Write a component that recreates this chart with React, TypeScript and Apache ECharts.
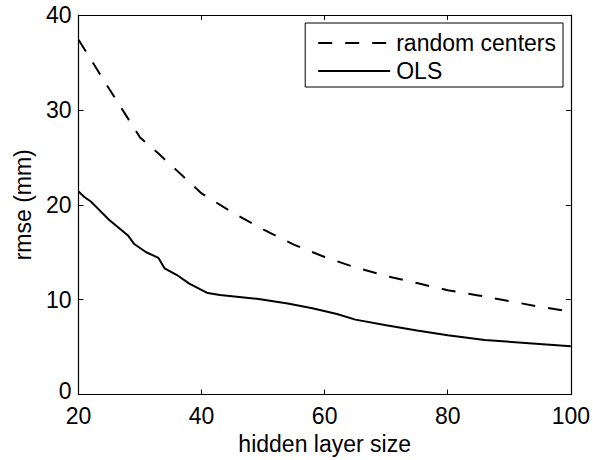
import React, { useEffect, useRef } from "react";
import * as echarts from "echarts";

const dashedX = [20, 25, 30, 33, 36, 40, 45, 50, 55, 60, 65, 70, 75, 80, 85, 90, 95, 100];
const dashedY = [37.4, 32.2, 27.1, 25.4, 23.6, 21.2, 19.2, 17.4, 15.8, 14.5, 13.4, 12.5, 11.75, 11.0, 10.45, 9.85, 9.25, 8.75];
const solidX = [20, 21, 22, 23, 25, 28, 29, 31, 33, 34, 36, 38, 41, 43, 49, 54, 58, 62, 65, 70, 75, 80, 86, 100];
const solidY = [21.4, 20.8, 20.35, 19.7, 18.4, 16.8, 15.9, 15.0, 14.4, 13.3, 12.6, 11.7, 10.7, 10.5, 10.1, 9.6, 9.1, 8.5, 7.9, 7.3, 6.75, 6.25, 5.75, 5.1];
const seriesNames = ["random centers", "OLS"];
const xTicks = [20, 40, 60, 80, 100];
const yTicks = [0, 10, 20, 30, 40];

const FONT = "Liberation Sans, Arial, sans-serif";
const FS = 23;

export default function App() {
  const ref = useRef<HTMLDivElement>(null);
  useEffect(() => {
    if (!ref.current) return;
    const chart = echarts.init(ref.current, undefined, { renderer: "svg" });
    const axisCommon = {
      axisLine: { show: true, onZero: false, lineStyle: { color: "#000", width: 1.2 } },
      axisTick: { show: true, inside: true, length: 5, lineStyle: { color: "#000", width: 1 } },
      splitLine: { show: false },
    };
    chart.setOption({
      animation: false,
      backgroundColor: "#fff",
      textStyle: { fontFamily: FONT },
      grid: { left: 78.5, right: 20, top: 15, bottom: 65, containLabel: false },
      legend: {
        show: true,
        data: seriesNames,
        orient: "vertical",
        right: 30,
        top: 23,
        itemWidth: 72,
        itemHeight: 14,
        itemGap: 4,
        padding: [8, 7, 4, 12],
        borderColor: "#000",
        borderWidth: 1,
        backgroundColor: "#fff",
        itemStyle: { opacity: 0 },
        lineStyle: { width: 2 },
        textStyle: { fontFamily: FONT, fontSize: FS, lineHeight: 24, color: "#000", padding: [0, 0, 0, 1] },
      },
      xAxis: [
        {
          type: "value",
          min: xTicks[0],
          max: xTicks[xTicks.length - 1],
          interval: 20,
          name: "hidden layer size",
          nameLocation: "middle",
          nameGap: 33,
          nameTextStyle: { fontFamily: FONT, fontSize: FS, color: "#000" },
          axisLabel: { color: "#000", fontFamily: FONT, fontSize: FS, lineHeight: 16, margin: 13 },
          ...axisCommon,
        },
        {
          type: "value",
          position: "top",
          min: xTicks[0],
          max: xTicks[xTicks.length - 1],
          interval: 20,
          axisLabel: { show: false },
          ...axisCommon,
        },
      ],
      yAxis: [
        {
          type: "value",
          min: yTicks[0],
          max: yTicks[yTicks.length - 1],
          interval: 10,
          name: "rmse (mm)",
          nameLocation: "middle",
          nameGap: 44,
          nameTextStyle: { fontFamily: FONT, fontSize: FS, color: "#000" },
          axisLabel: {
            color: "#000",
            fontFamily: FONT,
            fontSize: FS,
            lineHeight: 16,
            margin: 7,
            formatter: (v: number) => (v === yTicks[0] ? "{z|" + v + "}" : String(v)),
            rich: {
              z: { fontFamily: FONT, fontSize: FS, lineHeight: 16, color: "#000", padding: [0, 0, 8, 0] },
            },
          },
          ...axisCommon,
        },
        {
          type: "value",
          position: "right",
          min: yTicks[0],
          max: yTicks[yTicks.length - 1],
          interval: 10,
          axisLabel: { show: false },
          ...axisCommon,
        },
      ],
      series: [
        {
          name: seriesNames[0],
          type: "line",
          data: dashedX.map((x, i) => [x, dashedY[i]]),
          symbol: "none",
          lineStyle: { color: "#000", width: 2, type: [14, 13] },
          itemStyle: { color: "#000" },
        },
        {
          name: seriesNames[1],
          type: "line",
          data: solidX.map((x, i) => [x, solidY[i]]),
          symbol: "none",
          lineStyle: { color: "#000", width: 2 },
          itemStyle: { color: "#000" },
        },
      ],
    });
    return () => chart.dispose();
  }, []);
  return <div ref={ref} style={{ position: "absolute", left: 0, top: 0, width: 593, height: 460 }} />;
}
